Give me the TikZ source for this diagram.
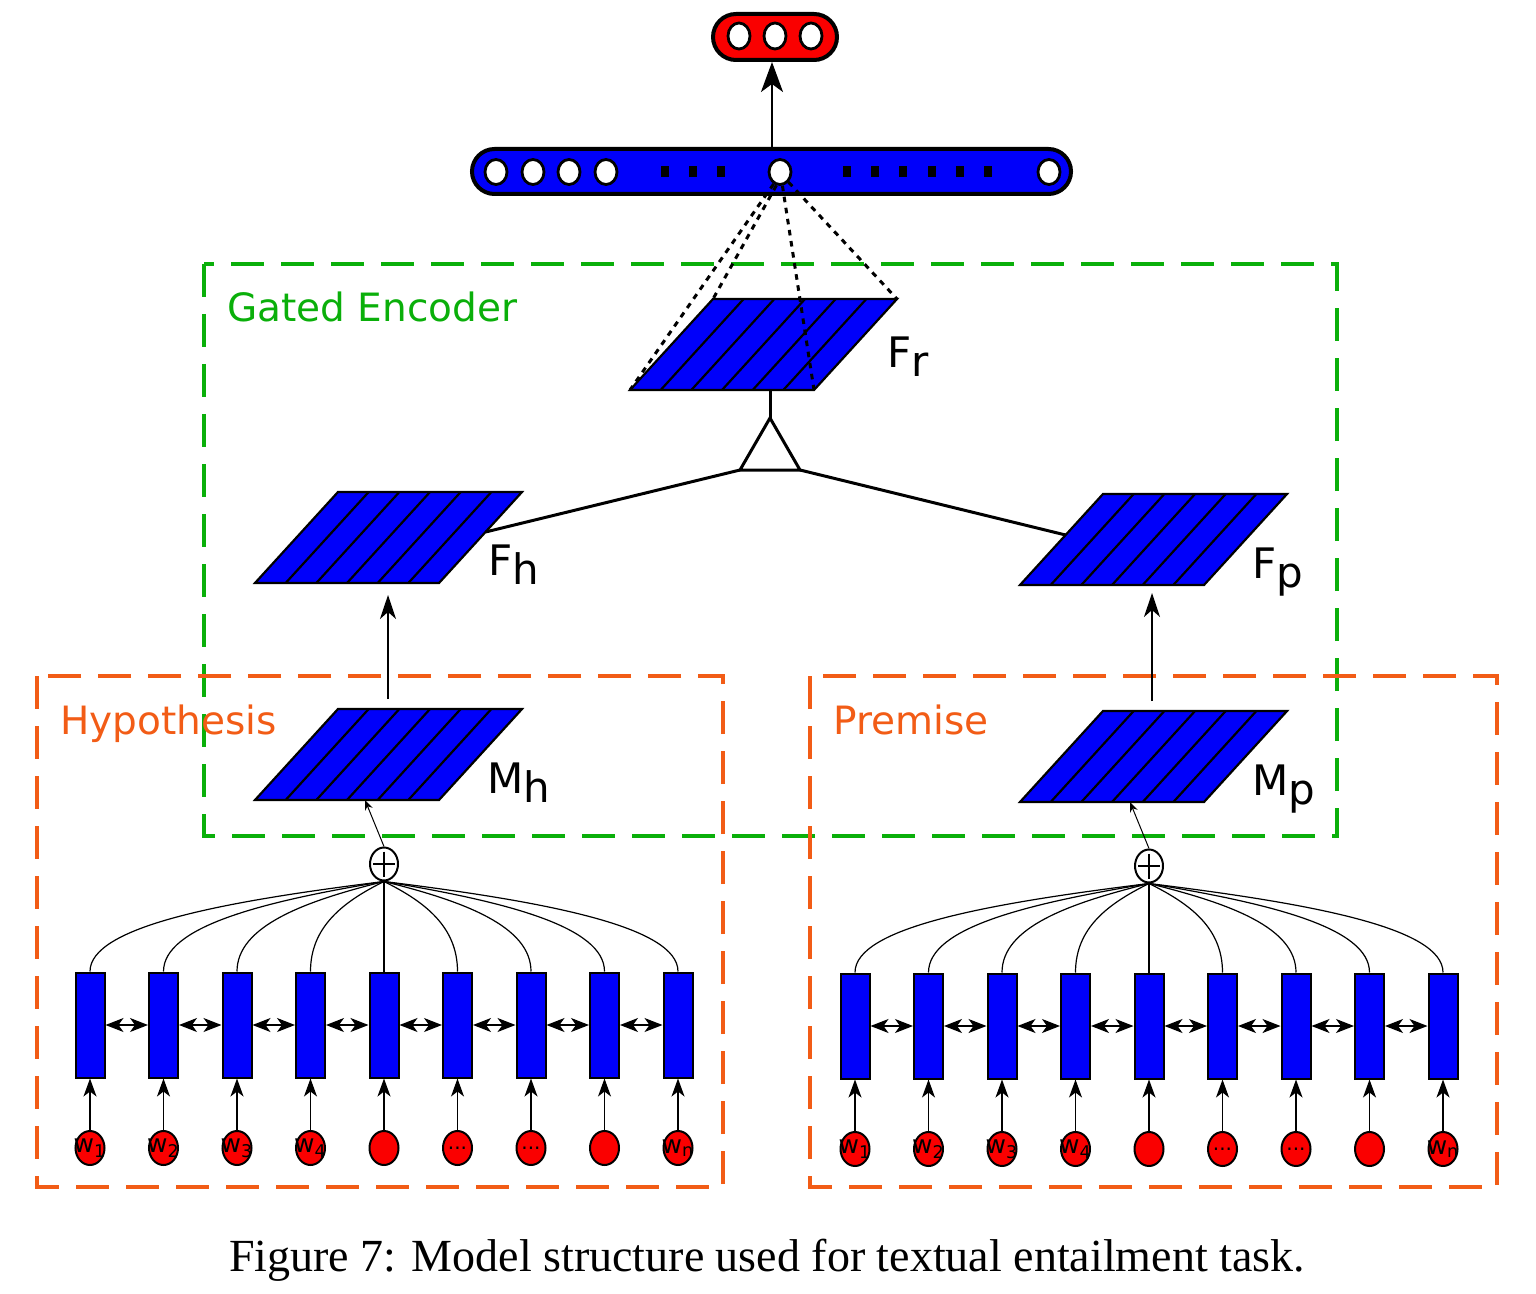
\documentclass[tikz,border=0pt]{standalone}
\usepackage{fontspec}
\setmainfont{DejaVu Sans}
\newfontfamily\capfont{Liberation Serif}
\usetikzlibrary{arrows.meta,shapes.geometric,shapes.misc,calc}
\definecolor{nblue}{RGB}{0,0,250}
\definecolor{nred}{RGB}{250,0,0}
\definecolor{ngreen}{RGB}{10,175,10}
\definecolor{norange}{RGB}{242,92,22}
\begin{document}
\begin{tikzpicture}[x=0.5pt,y=0.5pt,
  layer/.pic={
    \fill[nblue] (0,0) -- (184,0) -- (267,91) -- (83,91) -- cycle;
    \foreach \i in {1,...,5} \draw[line width=1.1pt] ({\i*30.67},0) -- ({83+\i*30.67},91);
    \draw[line width=1.1pt, line join=miter] (0,0) -- (184,0) -- (267,91) -- (83,91) -- cycle;
    \coordinate (-bl) at (0,0);
    \coordinate (-br) at (184,0);
    \coordinate (-tl) at (83,91);
    \coordinate (-tr) at (267,91);
    \coordinate (-stem) at (140,0);
    \coordinate (-bx) at (133,0);
    \coordinate (-in) at (110,0);
    \coordinate (-rmid) at (230.5,51);
    \coordinate (-lmid) at (45.6,50);
  },
  lab/.style={anchor=base west, font=\fontsize{21}{24}\selectfont, inner sep=0},
  boxtitle/.style={anchor=base west, font=\fontsize{19.5}{23}\selectfont, inner sep=0},
  gbox/.style={draw=ngreen, line width=2pt, dash pattern=on 16.5pt off 8.5pt},
  obox/.style={draw=norange, line width=2pt, dash pattern=on 16.5pt off 8.5pt},
  cell/.style={rectangle, draw, line width=1pt, fill=nblue, minimum width=14.5pt, minimum height=52.5pt, inner sep=0},
  word/.style={ellipse, draw, line width=1pt, fill=nred, minimum width=14.5pt, minimum height=17pt, inner sep=0},
  wtext/.style={inner sep=0, font=\fontsize{12.5}{12}\selectfont},
  hole/.style={ellipse, draw, line width=1.4pt, fill=white, minimum width=11pt, minimum height=12.5pt, inner sep=0},
  sq/.style={rectangle, fill=black, minimum width=4pt, minimum height=5.5pt, inner sep=0},
  plusnode/.style={ellipse, draw, line width=1pt, fill=white, minimum width=14pt, minimum height=16.5pt, inner sep=0},
  uparrow/.style={line width=0.6pt, -{Stealth[length=9pt,width=6.5pt,inset=2.5pt]}},
  dbl/.style={line width=0.6pt, {Stealth[length=9pt,width=7pt,inset=2.5pt]}-{Stealth[length=9pt,width=7pt,inset=2.5pt]}},
  fan/.style={line width=0.6pt},
  dotline/.style={line width=1.5pt, dash pattern=on 2.8pt off 2.8pt},
  thick line/.style={line width=1.5pt}
]
\useasboundingbox (0,0) rectangle (1536,-1294);

% containers
\draw[gbox] (204,-264) rectangle (1337,-836);
\draw[obox] (37,-676) rectangle (723,-1187);
\draw[obox] (810,-676) rectangle (1497,-1187);
\node[boxtitle, text=ngreen] (tGated) at (227,-322) {Gated Encoder};
\node[boxtitle, text=norange] (tHyp) at (60,-734) {Hypothesis};
\node[boxtitle, text=norange] (tPrem) at (833,-734) {Premise};

% output layer
\node[rounded rectangle, draw, line width=2pt, fill=nred, minimum width=62pt, minimum height=23pt, inner sep=0] (pill) at (775,-37) {};
\node[hole, minimum height=13pt] (o1) at (739,-36) {};
\node[hole, minimum height=13pt] (o2) at (775,-36) {};
\node[hole, minimum height=13pt] (o3) at (811,-36) {};

% representation bar
\node[rounded rectangle, draw, line width=2pt, fill=nblue, minimum width=299.5pt, minimum height=22.5pt, inner sep=0] (bar) at (771.5,-171.5) {};
\node[hole] (b1) at (496,-172) {};
\node[hole] (b2) at (533,-172) {};
\node[hole] (b3) at (569,-172) {};
\node[hole] (b4) at (606,-172) {};
\node[hole] (b5) at (780,-172) {};
\node[hole] (b6) at (1049,-172) {};
\foreach \x [count=\k] in {665,693,721,847,875,903,932,960,988}
  \node[sq] (s\k) at (\x,-172) {};
\draw[line width=1pt, -{Stealth[length=15pt,width=11pt,inset=4pt]}] (bar.north -| 772,0) -- (pill.south -| 772,0);

% gated encoder layers
\pic (Fr) at (630,-390) {layer};
\pic (Fh) at (255,-583) {layer};
\pic (Mh) at (255,-800) {layer};
\pic (Fp) at (1020,-585) {layer};
\pic (Mp) at (1020,-802) {layer};

\node[lab] (lFr) at (887,-368) {F\raisebox{-4.5pt}{r}};
\node[lab] (lFh) at (488,-575) {F\raisebox{-4.5pt}{h}};
\node[lab] (lMh) at (487,-793) {M\raisebox{-4.5pt}{h}};
\node[lab] (lFp) at (1252,-578) {F\raisebox{-4.5pt}{p}};
\node[lab] (lMp) at (1252,-795) {M\raisebox{-4.5pt}{p}};

% dotted connections
\draw[dotline] (b5.-118) -- (Fr-bl);
\draw[dotline] (b5.-105) -- (Fr-tl);
\draw[dotline] (b5.-80) -- (Fr-br);
\draw[dotline] (b5.-50) -- (Fr-tr);

% gate triangle
\coordinate (triT) at (770,-418);
\coordinate (triL) at (740,-470);
\coordinate (triR) at (800,-470);
\draw[thick line] (Fr-stem) -- (triT);
\draw[thick line, line join=miter] (triT) -- (triL) -- (triR) -- cycle;
\draw[thick line] (triL) -- (Fh-rmid);
\draw[thick line] (triR) -- (Fp-lmid);

% M -> F arrows
\draw[line width=0.8pt, -{Stealth[length=12pt,width=8pt,inset=3.5pt]}] ($(Mh-bx)+(0,101)$) -- ($(Fh-bx)+(0,-12)$);
\draw[line width=0.8pt, -{Stealth[length=12pt,width=8pt,inset=3.5pt]}] ($(Mp-bx)+(-1,101)$) -- ($(Fp-bx)+(-1,-8)$);

% sum nodes
\node[plusnode] (pL) at (384,-864) {};
\node[plusnode] (pR) at (1149,-866) {};
\foreach \p in {pL,pR} {
  \draw[line width=0.8pt, shorten <=2pt, shorten >=2pt] (\p.west) -- (\p.east);
  \draw[line width=0.8pt, shorten <=2.5pt, shorten >=2.5pt] (\p.north) -- (\p.south);
}
\draw[line width=0.5pt, -{Stealth[length=5pt,width=4pt]}] (pL.north) -- (Mh-in);
\draw[line width=0.5pt, -{Stealth[length=5pt,width=4pt]}] (pR.north) -- (Mp-in);

% word sequences
\foreach \side/\xs/\yc/\yw/\p in {L/90/-1025/-1148/pL, R/855/-1026/-1149/pR} {
  \foreach \i in {0,...,8} {
    \node[cell] (h\side\i) at ({\xs+73.5*\i},\yc) {};
    \node[word] (w\side\i) at ({\xs+73.5*\i},\yw) {};
    \draw[uparrow] (w\side\i.north) -- (h\side\i.south);
    \pgfmathsetmacro\dx{(\i-4)*73.5}
    \draw[fan] (\p.south) .. controls ($(\p.south)+(0.55*\dx,-20)$) and ($(h\side\i.north)+(0,45)$) .. (h\side\i.north);
  }
  \foreach \i [evaluate=\i as \j using int(\i+1)] in {0,...,7}
    \draw[dbl] (h\side\i.east) -- (h\side\j.west);
  \node[wtext] (t\side0) at (w\side0) {w\textsubscript{1}};
  \node[wtext] (t\side1) at (w\side1) {w\textsubscript{2}};
  \node[wtext] (t\side2) at (w\side2) {w\textsubscript{3}};
  \node[wtext] (t\side3) at (w\side3) {w\textsubscript{4}};
  \node[wtext, font=\fontsize{10}{10}\selectfont] (t\side5) at (w\side5) {...};
  \node[wtext, font=\fontsize{10}{10}\selectfont] (t\side6) at (w\side6) {...};
  \node[wtext] (t\side8) at (w\side8) {w\textsubscript{n}};
}

% caption
\node[anchor=base, inner sep=0, font=\capfont\fontsize{23}{27}\selectfont] (cap) at (767,-1271) {Figure 7: Model structure used for textual entailment task.};
\end{tikzpicture}
\end{document}
